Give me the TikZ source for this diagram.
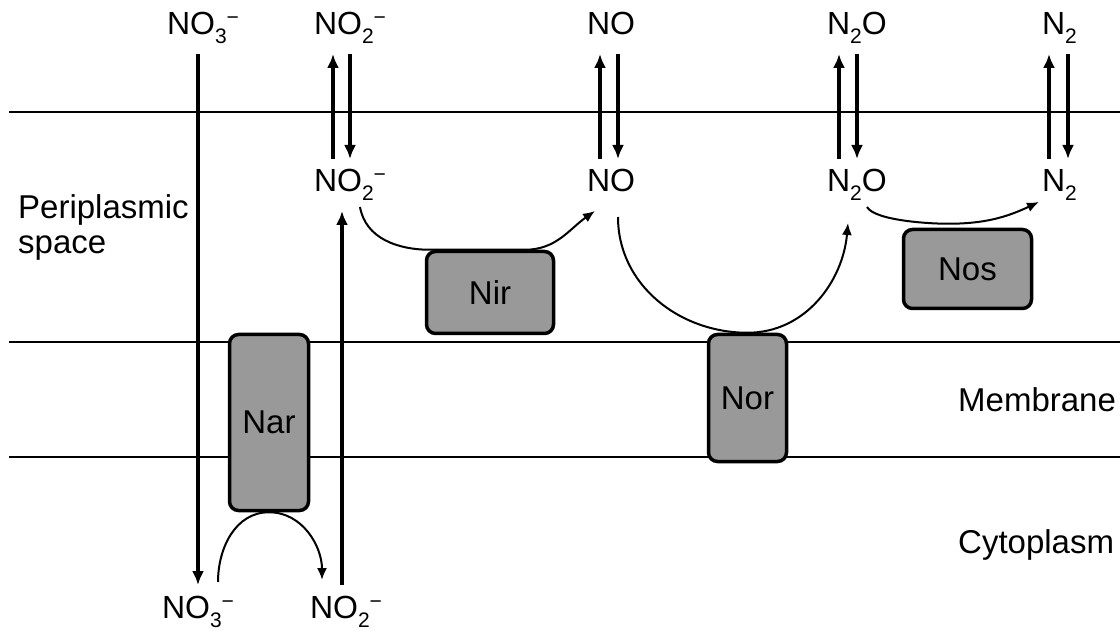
\documentclass[tikz,border=0pt]{standalone}
\usepackage{fontspec}
\setmainfont{Liberation Sans}
\usetikzlibrary{arrows.meta}
\definecolor{enzgray}{HTML}{999999}
\newcommand\chsub[1]{\raisebox{-9pt}{\fontsize{21}{21}\selectfont #1}}
\newcommand\chion{\raisebox{10pt}{\fontsize{21}{21}\selectfont −}}
\begin{document}
\begin{tikzpicture}[x=1pt,y=1pt,
  mol/.style={inner sep=0pt, outer xsep=0pt, outer ysep=10pt, anchor=base west,
    text height=23pt, text depth=9pt, font=\fontsize{32}{36}\selectfont},
  region/.style={inner sep=0pt, anchor=base west, font=\fontsize{33}{35}\selectfont},
  enzyme/.style={draw=black, line width=3.5pt, fill=enzgray, rounded corners=9pt,
    inner sep=0pt, font=\fontsize{33}{36}\selectfont},
  mline/.style={line width=2pt},
  varr/.style={line width=3.2pt, -{Latex[length=14pt,width=12pt]}},
  carr/.style={line width=2pt, -{Latex[length=12pt,width=10pt]}}]
\useasboundingbox (0,0) rectangle (1120,-636);

% compartment boundaries
\draw[mline] (9,-112) -- (1120,-112);
\draw[mline] (9,-342) -- (1120,-342);
\draw[mline] (9,-457) -- (1120,-457);

% region labels
\node[region, align=left, anchor=north west] (peri) at (18,-194) {Periplasmic\\space};
\node[region] (memb) at (958,-412) {Membrane};
\node[region] (cyto) at (958,-553) {Cytoplasm};

% molecules
\node[mol] (no3t) at (167,-35) {NO\chsub{3}\chion};
\node[mol] (no2t) at (314,-35) {NO\chsub{2}\chion};
\node[mol] (not)  at (587,-35) {NO};
\node[mol] (n2ot) at (827,-35) {N\chsub{2}O};
\node[mol] (n2t)  at (1042,-35) {N\chsub{2}};
\node[mol] (no2m) at (314,-192) {NO\chsub{2}\chion};
\node[mol] (nom)  at (587,-192) {NO};
\node[mol] (n2om) at (827,-192) {N\chsub{2}O};
\node[mol] (n2m)  at (1042,-192) {N\chsub{2}};
\node[mol] (no3b) at (162,-618) {NO\chsub{3}\chion};
\node[mol] (no2b) at (310,-618) {NO\chsub{2}\chion};

% enzymes
\node[enzyme, minimum width=79pt, minimum height=176pt] (nar) at (269,-422.5) {Nar};
\node[enzyme, minimum width=127pt, minimum height=82pt] (nir) at (490,-292.5) {Nir};
\node[enzyme, minimum width=78pt, minimum height=127pt] (nor) at (747.5,-398) {Nor};
\node[enzyme, minimum width=128pt, minimum height=79pt] (nos) at (967.5,-269) {Nos};

% transport arrows
\draw[varr] ([xshift=31pt]no3t.south west) coordinate (c1) -- (c1 |- no3b.north);
\draw[varr] ([xshift=32pt]no2b.north west) coordinate (c2) -- (c2 |- no2m.south);

\draw[varr] ([xshift=19pt]no2m.north west) coordinate (u1) -- (u1 |- no2t.south);
\draw[varr] ([xshift=36pt]no2t.south west) coordinate (d1) -- (d1 |- no2m.north);
\draw[varr] ([xshift=13pt]nom.north west) coordinate (u2) -- (u2 |- not.south);
\draw[varr] ([xshift=31pt]not.south west) coordinate (d2) -- (d2 |- nom.north);
\draw[varr] ([xshift=12pt]n2om.north west) coordinate (u3) -- (u3 |- n2ot.south);
\draw[varr] ([xshift=30pt]n2ot.south west) coordinate (d3) -- (d3 |- n2om.north);
\draw[varr] ([xshift=7pt]n2m.north west) coordinate (u4) -- (u4 |- n2t.south);
\draw[varr] ([xshift=26pt]n2t.south west) coordinate (d4) -- (d4 |- n2m.north);

% enzyme reactions
\draw[carr] ([xshift=56pt,yshift=3pt]no3b.north west) to[out=90,in=180] (nar.south)
  to[out=0,in=90] ([xshift=12pt,yshift=5pt]no2b.north west);
\draw[carr] ([xshift=46pt,yshift=4pt]no2m.south west) to[out=-80,in=180] ([xshift=-60pt]nir.north)
  -- ([xshift=35pt]nir.north) to[out=0,in=-145] ([xshift=8pt]nom.south west);
\draw[carr] ([xshift=31pt,yshift=-6pt]nom.south west) to[out=-90,in=180] (nor.north)
  to[out=0,in=-95] ([xshift=21pt,yshift=-12pt]n2om.south west);
\draw[carr] ([xshift=40pt,yshift=4pt]n2om.south west) to[out=-60,in=180,looseness=0.5] ([xshift=-20pt,yshift=4pt]nos.north)
  to[out=0,in=-155] ([xshift=-3pt,yshift=9pt]n2m.south west);
\end{tikzpicture}
\end{document}
